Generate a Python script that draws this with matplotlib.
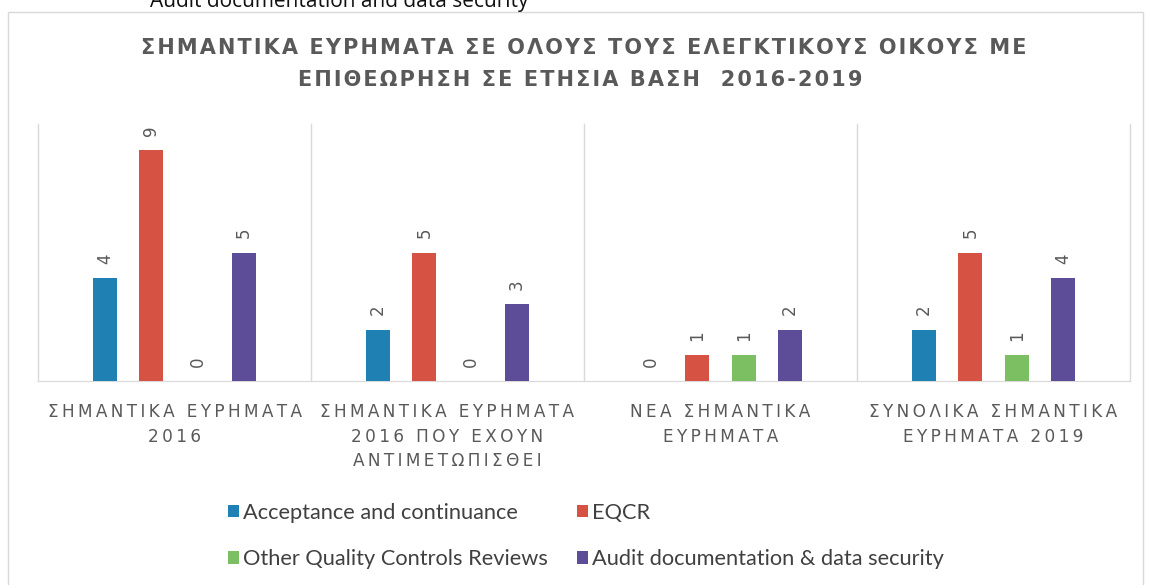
import matplotlib
matplotlib.use("Agg")
import matplotlib.pyplot as plt
from matplotlib.patches import Rectangle

categories = ["ΣΗΜΑΝΤΙΚΑ ΕΥΡΗΜΑΤΑ\n2016",
              "ΣΗΜΑΝΤΙΚΑ ΕΥΡΗΜΑΤΑ\n2016 ΠΟΥ ΕΧΟΥΝ\nΑΝΤΙΜΕΤΩΠΙΣΘΕΙ",
              "ΝΕΑ ΣΗΜΑΝΤΙΚΑ\nΕΥΡΗΜΑΤΑ",
              "ΣΥΝΟΛΙΚΑ ΣΗΜΑΝΤΙΚΑ\nΕΥΡΗΜΑΤΑ 2019"]
series_names = ["Acceptance and continuance", "EQCR",
                "Other Quality Controls Reviews", "Audit documentation & data security"]
acceptance = [4, 2, 0, 2]
eqcr = [9, 5, 1, 5]
other_qc = [0, 0, 1, 1]
audit_doc = [5, 3, 2, 4]
series_values = [acceptance, eqcr, other_qc, audit_doc]
colors = ["#1f80b4", "#d65344", "#7cbf62", "#5d4c98"]

title_lines = ["ΣΗΜΑΝΤΙΚΑ ΕΥΡΗΜΑΤΑ ΣΕ ΟΛΟΥΣ ΤΟΥΣ ΕΛΕΓΚΤΙΚΟΥΣ ΟΙΚΟΥΣ ΜΕ",
               "ΕΠΙΘΕΩΡΗΣΗ ΣΕ ΕΤΗΣΙΑ ΒΑΣΗ  2016-2019"]


def spaced(s, sep="\u2009"):
    return "\n".join(sep.join(list(line)) for line in s.split("\n"))


W, H = 1149, 585
fig = plt.figure(figsize=(W / 100, H / 100), dpi=100)
fig.patch.set_facecolor("white")

# chart border
fig.patches.append(Rectangle((8 / W, -0.05), (1143 - 8) / W, 1.05 - 12 / H,
                             transform=fig.transFigure, fill=False,
                             edgecolor="#d9d9d9", linewidth=1.0))

# clipped heading at very top (cut off in the reference as well)
fig.text(150 / W, 1 - 7 / H, "Audit documentation and data security",
         fontsize=15, color="#111111", va="baseline", ha="left",
         family="Open Sans")

ax = fig.add_axes([38 / W, 1 - 381 / H, (1130 - 38) / W, (381 - 124) / H])
ax.set_facecolor("none")

n = len(series_values)
step = 0.17
width = 0.088
for j, (vals, name, col) in enumerate(zip(series_values, series_names, colors)):
    xs = [i + (j - (n - 1) / 2) * step for i in range(len(categories))]
    ax.bar(xs, vals, width=width, color=col, label=name, zorder=3)
    for x, v in zip(xs, vals):
        ax.annotate(str(v), (x, v), xytext=(0, 14), textcoords="offset points",
                    rotation=90, ha="center", va="center", fontsize=12,
                    color="#595959")

ax.set_xlim(-0.5, len(categories) - 0.5)
ax.set_ylim(0, 10)
for b in [k - 0.5 for k in range(len(categories) + 1)]:
    ax.axvline(b, color="#d9d9d9", linewidth=1.0, zorder=1, clip_on=False)
for s in ["left", "right", "top"]:
    ax.spines[s].set_visible(False)
ax.spines["bottom"].set_color("#d9d9d9")
ax.set_yticks([])
ax.set_xticks(range(len(categories)))
ax.set_xticklabels([spaced(c) for c in categories], fontsize=12.2, color="#595959",
                   linespacing=1.45)
ax.tick_params(axis="x", length=0, pad=16)

fig.text(584 / W, 1 - 48 / H, spaced(title_lines[0], "\u200a"), ha="center", va="center",
         fontsize=15.0, fontweight="bold", color="#595959")
fig.text(580 / W, 1 - 80 / H, spaced(title_lines[1], "\u200a"), ha="center", va="center",
         fontsize=15.0, fontweight="bold", color="#595959")

handles, labels = ax.get_legend_handles_labels()
order = [0, 2, 1, 3]
fig.legend([handles[k] for k in order], [labels[k] for k in order], ncol=2,
           loc="center", bbox_to_anchor=(586 / W, 1 - 536 / H), frameon=False,
           prop={"family": "Lato", "size": 15.7}, labelcolor="#404040",
           handlelength=0.5, handleheight=0.5, handletextpad=0.2,
           columnspacing=1.3, labelspacing=1.2)

fig.savefig("out.png", dpi=100)
